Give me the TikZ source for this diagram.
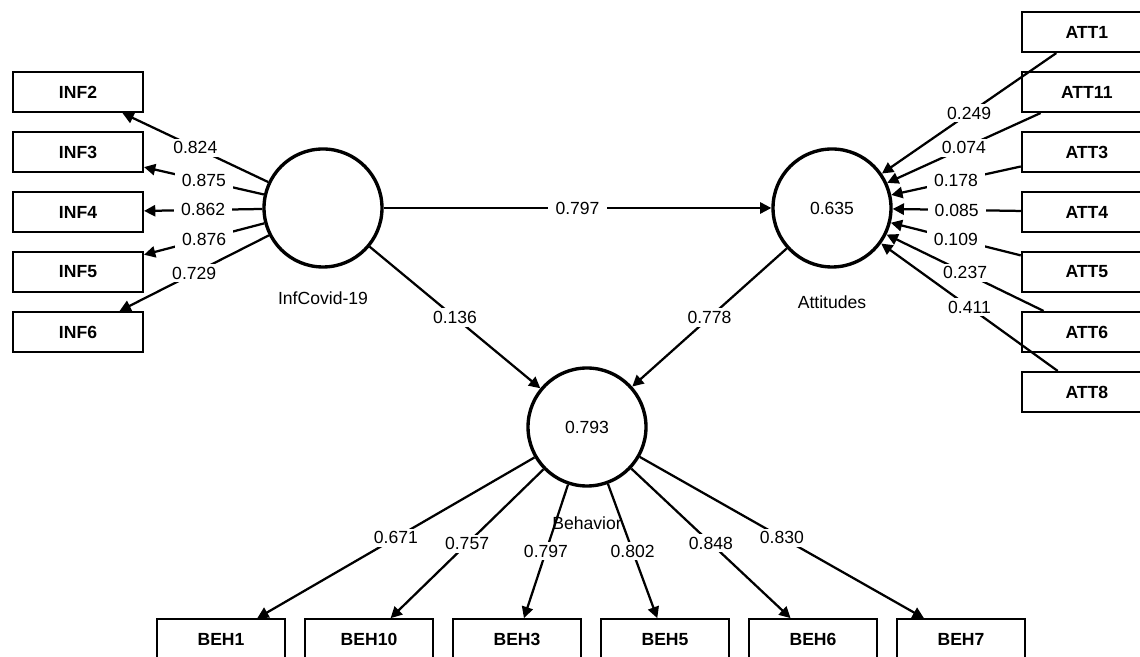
\documentclass[tikz,border=0pt]{standalone}
\usepackage{fontspec}
\setmainfont{Liberation Sans}
\usetikzlibrary{positioning}
\usetikzlibrary{arrows.meta, positioning}
\tikzstyle{indicator} = [rectangle, minimum width=3.25cm, minimum height=1cm, text centered, draw=black, line width=1.5pt, fill=white, font=\fontsize{12.5}{15}\selectfont\bfseries]
\tikzstyle{behbox} = [indicator, minimum width=3.2cm]
\tikzstyle{construct} = [circle, minimum size=2.95cm, draw=black, line width=2.4pt, fill=white, font=\fontsize{12.5}{15}\selectfont]
\tikzstyle{constructname} = [font=\fontsize{12.5}{15}\selectfont]
\tikzstyle{loading} = [fill=white, inner xsep=5pt, inner ysep=2pt, font=\fontsize{12.5}{15}\selectfont]
\tikzstyle{arrow} = [line width=1.6pt, -{Triangle[length=8pt,width=8pt]}]

\begin{document}
\begin{tikzpicture}[node distance=1.5cm]
\useasboundingbox (0,0) rectangle (28.5,16.4);
\clip (0,0) rectangle (28.5,16.4);
\fill [white] (0,0) rectangle (28.5,16.4);

% constructs
\node (inf) [construct] at (8.075,11.2) {};
\node (att) [construct] at (20.8,11.2) {0.635};
\node (beh) [construct] at (14.675,5.725) {0.793};
\node (infname) [constructname, below=0.45cm of inf] {InfCovid-19};
\node (attname) [constructname, below=0.55cm of att] {Attitudes};
\node (behname) [constructname, below=0.6cm of beh] {Behavior};

% InfCovid-19 indicators
\node (inf2) [indicator] at (1.95,14.1) {INF2};
\node (inf3) [indicator, below of=inf2] {INF3};
\node (inf4) [indicator, below of=inf3] {INF4};
\node (inf5) [indicator, below of=inf4] {INF5};
\node (inf6) [indicator, below of=inf5] {INF6};

% Attitudes indicators
\node (att1) [indicator] at (27.17,15.6) {ATT1};
\node (att11) [indicator, below of=att1] {ATT11};
\node (att3) [indicator, below of=att11] {ATT3};
\node (att4) [indicator, below of=att3] {ATT4};
\node (att5) [indicator, below of=att4] {ATT5};
\node (att6) [indicator, below of=att5] {ATT6};
\node (att8) [indicator, below of=att6] {ATT8};

% Behavior indicators
\begin{scope}[node distance=3.7cm]
\node (beh1) [behbox] at (5.525,0.42) {BEH1};
\node (beh10) [behbox, right of=beh1] {BEH10};
\node (beh3) [behbox, right of=beh10] {BEH3};
\node (beh5) [behbox, right of=beh3] {BEH5};
\node (beh6) [behbox, right of=beh5] {BEH6};
\node (beh7) [behbox, right of=beh6] {BEH7};
\end{scope}

% structural paths
\draw [arrow] (inf) -- node [loading] {0.797} (att);
\draw [arrow] (inf) -- node [loading] {0.136} (beh);
\draw [arrow] (att) -- node [loading] {0.778} (beh);

% outer loadings
\draw [arrow] (inf) -- node [loading] {0.824} (inf2);
\draw [arrow] (inf) -- node [loading] {0.875} (inf3);
\draw [arrow] (inf) -- node [loading] {0.862} (inf4);
\draw [arrow] (inf) -- node [loading] {0.876} (inf5);
\draw [arrow] (inf) -- node [loading] {0.729} (inf6);

\draw [arrow] (att1) -- node [loading] {0.249} (att);
\draw [arrow] (att11) -- node [loading] {0.074} (att);
\draw [arrow] (att3) -- node [loading] {0.178} (att);
\draw [arrow] (att4) -- node [loading] {0.085} (att);
\draw [arrow] (att5) -- node [loading] {0.109} (att);
\draw [arrow] (att6) -- node [loading] {0.237} (att);
\draw [arrow] (att8) -- node [loading] {0.411} (att);

\draw [arrow] (beh) -- node [loading] {0.671} (beh1);
\draw [arrow] (beh) -- node [loading] {0.757} (beh10);
\draw [arrow] (beh) -- node [loading] {0.797} (beh3);
\draw [arrow] (beh) -- node [loading] {0.802} (beh5);
\draw [arrow] (beh) -- node [loading] {0.848} (beh6);
\draw [arrow] (beh) -- node [loading] {0.830} (beh7);

\end{tikzpicture}
\end{document}
